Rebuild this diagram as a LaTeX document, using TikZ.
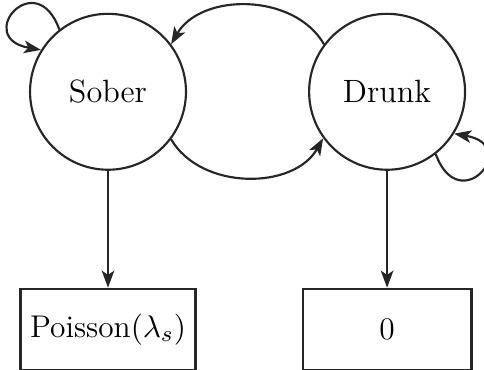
\documentclass[tikz,border=0pt]{standalone}
\usepackage{xcolor}
\usepackage{tikz}
\usetikzlibrary{positioning,arrows.meta}

\begin{document}
\begin{tikzpicture}[node distance=1.5cm,
      state/.style={circle,draw=black!85,line width=0.75pt,minimum size=1.92cm,inner sep=0pt,font=\fontsize{11.3}{13}\selectfont},
      emit/.style={rectangle,draw=black!85,line width=0.75pt,minimum width=2.08cm,minimum height=1cm,font=\fontsize{11}{13}\selectfont},
      arr/.style={->,>={Stealth[length=6pt,width=4.4pt,inset=1.5pt]},draw=black!85,line width=0.75pt}]
      \useasboundingbox (-1.33,1.13) rectangle (4.63,-3.42);
      \node[state] (sober) {Sober};
      \node[state,right=1.49cm of sober] (drunk) {Drunk};
      \node[emit,below=1.44cm of sober] (pois) {Poisson$(\lambda_s)$};
      \node[emit,below=1.44cm of drunk] (zero) {0};
      \draw[arr] (sober) -- (pois);
      \draw[arr] (drunk) -- (zero);
      \draw[arr] (drunk.143) to[bend right=60] (sober.37);
      \draw[arr] (sober.-37) to[bend right=60] (drunk.216);
      \draw[arr] (sober.128) to[out=110,in=170,distance=0.85cm] (sober.148);
      \draw[arr] (drunk.308) to[out=290,in=350,distance=0.85cm] (drunk.328);
    \end{tikzpicture}
\end{document}
